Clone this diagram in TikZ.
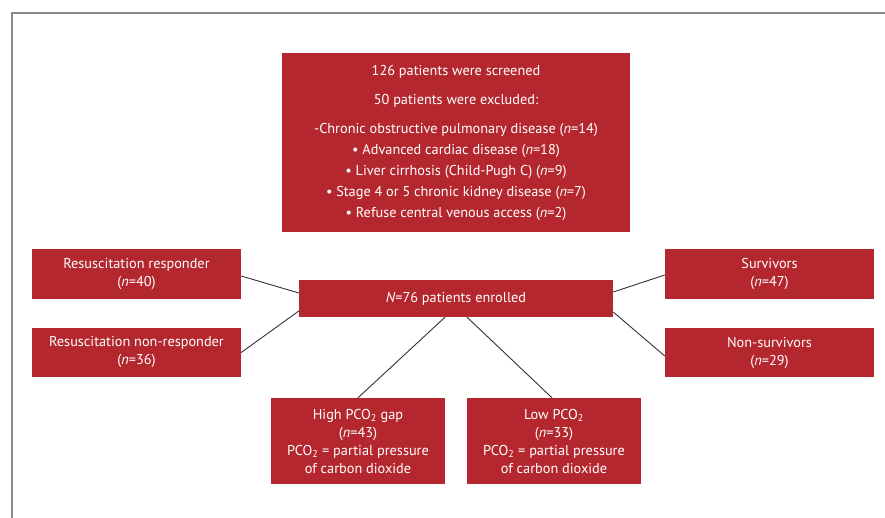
\documentclass[tikz,border=0pt]{standalone}
\usepackage{fontspec}
\setmainfont{PT Sans}
\definecolor{boxred}{HTML}{B5272F}
\definecolor{framegray}{HTML}{8A8A8A}
\definecolor{linegray}{HTML}{333333}
\begin{document}
\begin{tikzpicture}[x=1pt,y=-1pt,
 redbox/.style={fill=boxred, text=white, align=center, inner sep=0pt, font=\fontsize{14.3}{18}\selectfont},
 conn/.style={draw=linegray, line width=0.9pt}]
\useasboundingbox (0,0) rectangle (885,518);
\draw[framegray, line width=1.3pt] (12,518) -- (12,13) -- (885,13);

\node[redbox, minimum width=348pt, minimum height=179pt, font=\fontsize{14.3}{21}\selectfont] (top) at (456,142.5)
 {126 patients were screened\\[8pt]
  50 patients were excluded:\\[8pt]
  -Chronic obstructive pulmonary disease (\textit{n}=14)\\
  • Advanced cardiac disease (\textit{n}=18)\\
  • Liver cirrhosis (Child-Pugh C) (\textit{n}=9)\\
  • Stage 4 or 5 chronic kidney disease (\textit{n}=7)\\
  • Refuse central venous access (\textit{n}=2)};

\node[redbox, minimum width=209pt, minimum height=50pt] (resp) at (136.5,274) {Resuscitation responder\\(\textit{n}=40)};
\node[redbox, minimum width=209pt, minimum height=49pt] (nonresp) at (136.5,352.5) {Resuscitation non-responder\\(\textit{n}=36)};
\node[redbox, minimum width=314pt, minimum height=37pt] (enr) at (456,298.5) {\textit{N}=76 patients enrolled};
\node[redbox, minimum width=209pt, minimum height=50pt] (surv) at (769.5,274) {Survivors\\(\textit{n}=47)};
\node[redbox, minimum width=209pt, minimum height=49pt] (nonsurv) at (769.5,352.5) {Non-survivors\\(\textit{n}=29)};
\node[redbox, minimum width=174pt, minimum height=86pt] (high) at (358,441) {High PCO\textsubscript{2} gap\\(\textit{n}=43)\\PCO\textsubscript{2} = partial pressure\\of carbon dioxide};
\node[redbox, minimum width=174pt, minimum height=86pt] (low) at (554,441) {Low PCO\textsubscript{2}\\(\textit{n}=33)\\PCO\textsubscript{2} = partial pressure\\of carbon dioxide};

\draw[conn] ([yshift=-2pt]resp.east) -- ([yshift=5.5pt]enr.west);
\draw[conn] (nonresp.east) -- ([yshift=-12.5pt]enr.west);
\draw[conn] ([yshift=6.5pt]enr.east) -- ([yshift=-1pt]surv.west);
\draw[conn] ([yshift=-13.5pt]enr.east) -- ([yshift=-3.5pt]nonsurv.west);
\draw[conn] ([xshift=-11pt]enr.south) -- (high.north);
\draw[conn] ([xshift=11pt]enr.south) -- ([xshift=-2pt]low.north);
\end{tikzpicture}
\end{document}
